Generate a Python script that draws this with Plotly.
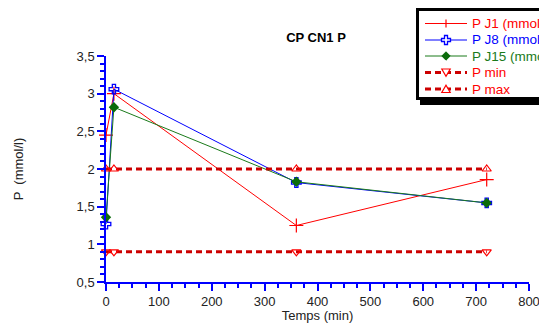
import plotly.graph_objects as go

time_min = [0, 15, 360, 720]
p_j1 = [2.45, 3.0, 1.25, 1.86]
p_j8 = [1.27, 3.06, 1.82, 1.55]
p_j15 = [1.36, 2.82, 1.83, 1.55]
p_min = [0.9, 0.9, 0.9, 0.9]
p_max = [2.0, 2.0, 2.0, 2.0]

series_names = ["P J1 (mmol/l)", "P J8 (mmol/l)", "P J15 (mmol/l)", "P min", "P max"]

W, H = 539, 323
L, R, T, B = 106, 10, 56, 41
FONT = "Liberation Sans, Arial, sans-serif"

RED = "#ff0000"
BLUE = "#0000ff"
GREEN = "#1a7a1a"
DKGREEN = "#0b6b0b"
DASHRED = "#cc0000"

fig = go.Figure()

fig.add_trace(go.Scatter(x=time_min, y=p_j1, mode="lines+markers", name=series_names[0],
                         line=dict(color=RED, width=1),
                         marker=dict(symbol="cross-thin", size=10, line=dict(color=RED, width=1.2)),
                         cliponaxis=False))
fig.add_trace(go.Scatter(x=time_min, y=p_j8, mode="lines+markers", name=series_names[1],
                         line=dict(color=BLUE, width=1),
                         marker=dict(symbol="cross-open", size=8, color=BLUE, line=dict(width=1.3)),
                         cliponaxis=False))
fig.add_trace(go.Scatter(x=time_min, y=p_j15, mode="lines+markers", name=series_names[2],
                         line=dict(color=GREEN, width=1),
                         marker=dict(symbol="diamond", size=8, color=DKGREEN),
                         cliponaxis=False))
fig.add_trace(go.Scatter(x=time_min, y=p_min, mode="lines+markers", name=series_names[3],
                         line=dict(color=DASHRED, width=3, dash="6px,4px"),
                         marker=dict(symbol="triangle-down-open", size=8, color=RED, line=dict(width=1.2)),
                         cliponaxis=False))
fig.add_trace(go.Scatter(x=time_min, y=p_max, mode="lines+markers", name=series_names[4],
                         line=dict(color=DASHRED, width=3, dash="6px,4px"),
                         marker=dict(symbol="triangle-up-open", size=8, color=RED, line=dict(width=1.2)),
                         cliponaxis=False))

pw = W - L - R
ph = H - T - B
def X(px):
    return (px - L) / pw
def Y(py):
    return 1 - (py - T) / ph
def path(points):
    return "M " + " L ".join(f"{X(a):.5f},{Y(b):.5f}" for a, b in points) + " Z"

shapes = []
# legend shadow and box
shapes.append(dict(type="rect", xref="paper", yref="paper", x0=X(420), x1=X(570), y0=Y(105), y1=Y(12),
                   fillcolor="black", line=dict(width=0), layer="above"))
shapes.append(dict(type="rect", xref="paper", yref="paper", x0=X(417.5), x1=X(560), y0=Y(98.5), y1=Y(9.5),
                   fillcolor="white", line=dict(color="black", width=3), layer="above"))

row_y = [23.5, 40, 56, 72.5, 89]
lx0, lx1, mx = 425, 467, 446
styles = [
    dict(color=RED, width=1, dash="solid"),
    dict(color=BLUE, width=1, dash="solid"),
    dict(color=GREEN, width=1, dash="solid"),
    dict(color=DASHRED, width=3, dash="6px,4px"),
    dict(color=DASHRED, width=3, dash="6px,4px"),
]
for ry, st in zip(row_y, styles):
    shapes.append(dict(type="line", xref="paper", yref="paper", x0=X(lx0), x1=X(lx1), y0=Y(ry), y1=Y(ry),
                       line=st, layer="above"))
# J1 marker (vertical tick of the cross)
ry = row_y[0]
shapes.append(dict(type="line", xref="paper", yref="paper", x0=X(mx), x1=X(mx), y0=Y(ry - 4), y1=Y(ry + 4),
                   line=dict(color=RED, width=1.2), layer="above"))
# J8 open cross
ry = row_y[1]
a, b = 1.5, 4.5
cross = [(mx - a, ry - b), (mx + a, ry - b), (mx + a, ry - a), (mx + b, ry - a), (mx + b, ry + a),
         (mx + a, ry + a), (mx + a, ry + b), (mx - a, ry + b), (mx - a, ry + a), (mx - b, ry + a),
         (mx - b, ry - a), (mx - a, ry - a)]
shapes.append(dict(type="path", xref="paper", yref="paper", path=path(cross),
                   fillcolor="white", line=dict(color=BLUE, width=1.3), layer="above"))
# J15 diamond
ry = row_y[2]
d = 4.2
shapes.append(dict(type="path", xref="paper", yref="paper",
                   path=path([(mx, ry - d), (mx + d, ry), (mx, ry + d), (mx - d, ry)]),
                   fillcolor=DKGREEN, line=dict(color=DKGREEN, width=1), layer="above"))
# P min triangle down
ry = row_y[3]
shapes.append(dict(type="path", xref="paper", yref="paper",
                   path=path([(mx - 4.2, ry - 3.5), (mx + 4.2, ry - 3.5), (mx, ry + 3.8)]),
                   fillcolor="white", line=dict(color=RED, width=1.2), layer="above"))
# P max triangle up
ry = row_y[4]
shapes.append(dict(type="path", xref="paper", yref="paper",
                   path=path([(mx - 4.2, ry + 3.5), (mx + 4.2, ry + 3.5), (mx, ry - 3.8)]),
                   fillcolor="white", line=dict(color=RED, width=1.2), layer="above"))

label_colors = [RED, BLUE, GREEN, RED, RED]
annotations = []
for ry, name, col in zip(row_y, series_names, label_colors):
    annotations.append(dict(xref="paper", yref="paper", x=X(470), y=Y(ry), xanchor="left", yanchor="middle",
                            text=name, showarrow=False, font=dict(family=FONT, size=13.5, color=col)))

axis_common = dict(showline=True, linecolor=BLUE, linewidth=1.5,
                   ticks="outside", tickcolor=BLUE, tickwidth=1.5, ticklen=7,
                   showgrid=False, zeroline=False, mirror=False,
                   ticklabeloverflow="allow",
                   tickfont=dict(family=FONT, size=13, color="#222222"))

fig.update_layout(
    width=W, height=H,
    margin=dict(l=L, r=R, t=T, b=B, autoexpand=False),
    paper_bgcolor="white", plot_bgcolor="white",
    separators=", ",
    font=dict(family=FONT, size=13, color="#222222"),
    title=dict(text="<b>CP CN1 P</b>", x=X(316), xref="paper", xanchor="center",
               y=1 - 37 / H, yanchor="middle", font=dict(family=FONT, size=13, color="black")),
    xaxis=dict(range=[0, 800], dtick=100, tick0=0,
               minor=dict(dtick=25, ticks="outside", ticklen=4, tickcolor=BLUE, tickwidth=1.5),
               title=dict(text="Temps (min)", standoff=0, font=dict(family=FONT, size=13, color="#222222")),
               **axis_common),
    yaxis=dict(range=[0.5, 3.5], dtick=0.5, tick0=0.5,
               minor=dict(dtick=0.1, ticks="outside", ticklen=4, tickcolor=BLUE, tickwidth=1.5),
               title=dict(text="P  (mmol/l)", standoff=50, font=dict(family=FONT, size=13, color="#222222")),
               **axis_common),
    showlegend=False,
    shapes=shapes,
    annotations=annotations,
)

fig.write_html("out.html", config={"displayModeBar": False},
               post_script="document.body.style.margin='0';document.body.style.overflow='hidden';")
